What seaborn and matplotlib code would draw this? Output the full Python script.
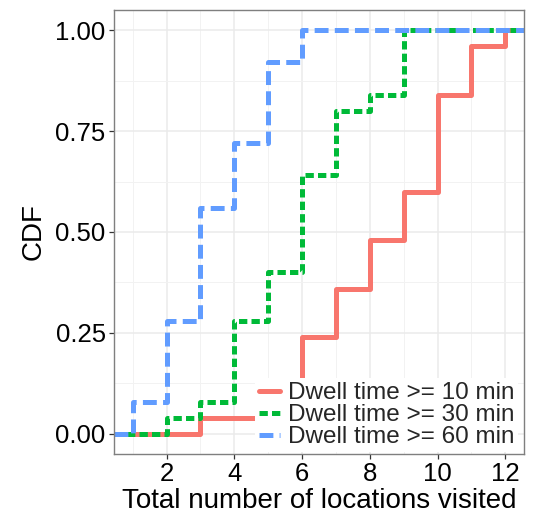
import numpy as np
import pandas as pd
import matplotlib
matplotlib.use("Agg")
import matplotlib.pyplot as plt
from matplotlib.ticker import FixedLocator
import seaborn as sns

# Observed number of locations visited (n = 25 per group), read from the step heights
groups = ["Dwell time >= 10 min", "Dwell time >= 30 min", "Dwell time >= 60 min"]
values_10 = [3, 6, 7, 8, 9, 10, 11, 12]
counts_10 = [1, 5, 3, 3, 3, 6, 3, 1]
values_30 = [2, 3, 4, 5, 6, 7, 8, 9]
counts_30 = [1, 1, 5, 3, 6, 4, 1, 4]
values_60 = [1, 2, 3, 4, 5, 6]
counts_60 = [2, 5, 7, 4, 5, 2]

x_ticks = [2, 4, 6, 8, 10, 12]
y_ticks = [0.00, 0.25, 0.50, 0.75, 1.00]
y_tick_labels = ["0.00", "0.25", "0.50", "0.75", "1.00"]

colors = ["#F8766D", "#00BA38", "#619CFF"]

samples = {
    groups[0]: np.repeat(values_10, counts_10),
    groups[1]: np.repeat(values_30, counts_30),
    groups[2]: np.repeat(values_60, counts_60),
}

# ggplot-like range expansion (5%)
all_vals = np.concatenate(list(samples.values()))
lo, hi = all_vals.min(), all_vals.max()
xlo, xhi = lo - 0.05 * (hi - lo), hi + 0.05 * (hi - lo)

rows = []
for g, s in samples.items():
    xs = np.sort(np.unique(s))
    cdf = np.array([np.mean(s <= v) for v in xs])
    px = np.r_[xlo, xs, xhi]
    py = np.r_[0.0, cdf, 1.0]
    for a, b in zip(px, py):
        rows.append({"x": a, "y": b, "group": g})
df = pd.DataFrame(rows)

sns.set_theme(style="white")
plt.rcParams["font.family"] = ["Liberation Sans", "DejaVu Sans"]
plt.rcParams["lines.scale_dashes"] = False

fig = plt.figure(figsize=(5.35, 5.14), dpi=100)
ax = fig.add_axes([114 / 535, 1 - 454 / 514, 410 / 535, 444 / 514])

dashes = {groups[0]: "", groups[1]: (6, 3), groups[2]: (10, 4.5)}
sns.lineplot(data=df, x="x", y="y", hue="group", style="group",
             hue_order=groups, style_order=groups,
             palette=dict(zip(groups, colors)), dashes=dashes,
             drawstyle="steps-post", estimator=None, sort=False,
             linewidth=3.6, ax=ax, legend=True)

ax.set_xlim(xlo, xhi)
ax.set_ylim(-0.05, 1.05)
ax.xaxis.set_major_locator(FixedLocator(x_ticks))
ax.yaxis.set_major_locator(FixedLocator(y_ticks))
ax.set_yticklabels(y_tick_labels)
ax.xaxis.set_minor_locator(FixedLocator([1, 3, 5, 7, 9, 11]))
ax.yaxis.set_minor_locator(FixedLocator([0.125, 0.375, 0.625, 0.875]))

ax.grid(which="major", color="#EBEBEB", linewidth=1.1)
ax.grid(which="minor", color="#F2F2F2", linewidth=0.7)
ax.set_axisbelow(True)
for sp in ax.spines.values():
    sp.set_color("#7F7F7F")
    sp.set_linewidth(1.0)

ax.tick_params(which="major", length=3.5, width=0.9, color="#333333",
               labelsize=18.5, labelcolor="black", pad=2.5,
               bottom=True, left=True)
ax.tick_params(which="minor", length=0)

ax.set_xlabel("Total number of locations visited", fontsize=20, labelpad=1, color="black")
ax.set_ylabel("CDF", fontsize=20, labelpad=6, color="black")

handles, labels = ax.get_legend_handles_labels()
leg = ax.legend(handles, labels, loc="lower right", bbox_to_anchor=(0.985, 0.005),
                fontsize=17.5, frameon=True, framealpha=1, facecolor="white",
                edgecolor="white", handlelength=0.9, handletextpad=0.3,
                labelspacing=0.0, borderpad=0.15, borderaxespad=0)
leg.get_frame().set_linewidth(0)
for h in leg.get_lines():
    h.set_linewidth(3.6)

fig.savefig("out.png", dpi=100)
